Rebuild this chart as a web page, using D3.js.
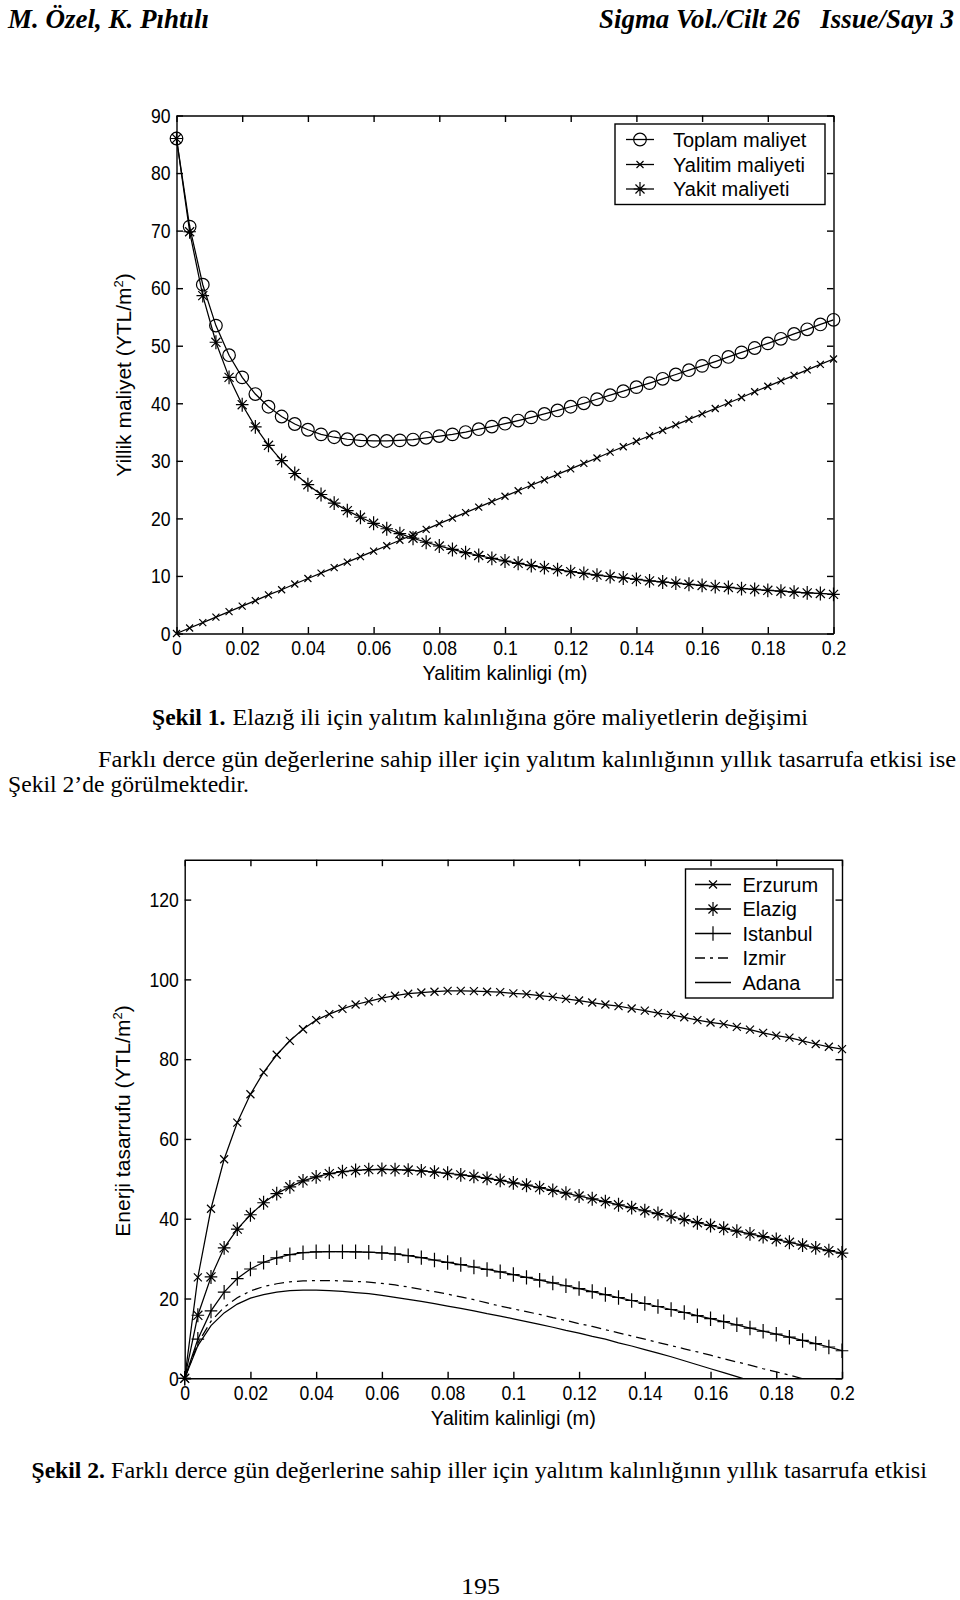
<!DOCTYPE html>
<html><head><meta charset="utf-8">
<script src="https://cdn.jsdelivr.net/npm/d3@7"></script>
<style>body{margin:0;background:#fff}svg{display:block}</style>
</head><body>
<script>
// ---------- DATA ----------
const thickness = [0,0.004,0.008,0.012,0.016,0.02,0.024,0.028,0.032,0.036,0.04,0.044,0.048,0.052,0.056,0.06,0.064,0.068,0.072,0.076,0.08,0.084,0.088,0.092,0.096,0.1,0.104,0.108,0.112,0.116,0.12,0.124,0.128,0.132,0.136,0.14,0.144,0.148,0.152,0.156,0.16,0.164,0.168,0.172,0.176,0.18,0.184,0.188,0.192,0.196,0.2];

const toplamMaliyet = [86.0,70.7,60.6,53.5,48.35,44.5,41.6,39.4,37.7,36.4,35.4,34.6,34.1,33.75,33.55,33.45,33.45,33.55,33.7,34.0,34.3,34.6,35.0,35.5,35.95,36.45,37.0,37.55,38.15,38.75,39.4,40.0,40.7,41.4,42.1,42.8,43.5,44.25,45.0,45.75,46.5,47.25,48.05,48.85,49.6,50.4,51.2,52.05,52.85,53.7,54.5];
const yalitimMaliyeti = [0,0.95,1.9,2.85,3.8,4.75,5.7,6.7,7.6,8.6,9.55,10.5,11.45,12.4,13.35,14.3,15.25,16.2,17.15,18.1,19.1,20.05,21.0,21.95,22.9,23.85,24.8,25.75,26.7,27.65,28.6,29.55,30.5,31.5,32.45,33.4,34.35,35.3,36.25,37.2,38.15,39.1,40.05,41.0,42.0,42.95,43.9,44.85,45.8,46.75,47.7];
const yakitMaliyeti = [86.0,69.8,58.7,50.6,44.5,39.75,35.9,32.7,30.05,27.8,25.85,24.15,22.65,21.35,20.2,19.15,18.2,17.35,16.55,15.85,15.2,14.6,14.05,13.55,13.05,12.6,12.2,11.8,11.45,11.1,10.75,10.45,10.15,9.9,9.65,9.4,9.15,8.95,8.75,8.55,8.35,8.15,8.0,7.8,7.65,7.5,7.35,7.2,7.05,6.95,6.8];

const erzurum = [0,25.3,42.5,54.9,64.1,71.2,76.7,81.1,84.6,87.5,89.8,91.3,92.6,93.7,94.5,95.3,95.9,96.4,96.7,96.9,97.1,97.1,97.05,96.9,96.8,96.5,96.3,95.9,95.6,95.1,94.7,94.2,93.7,93.3,92.7,92.15,91.55,91.1,90.5,89.8,89.2,88.8,88.1,87.4,86.6,85.9,85.4,84.6,83.8,83.1,82.5];
const elazig = [0,15.8,25.4,32.7,37.4,41.0,44.0,46.3,48.0,49.5,50.5,51.3,51.8,52.1,52.3,52.35,52.3,52.2,52.0,51.7,51.4,51.0,50.6,50.1,49.6,49.0,48.4,47.8,47.1,46.4,45.7,45.0,44.3,43.5,42.8,42.0,41.3,40.5,39.8,39.0,38.3,37.6,36.9,36.2,35.5,34.8,34.1,33.4,32.7,32.0,31.4];
const istanbul = [0,9.8,16.9,21.6,25.0,27.4,29.1,30.2,31.0,31.5,31.7,31.75,31.75,31.7,31.6,31.45,31.2,30.75,30.25,29.65,29.05,28.5,27.9,27.3,26.7,26.0,25.3,24.6,23.9,23.2,22.5,21.75,21.0,20.25,19.5,18.75,18.0,17.25,16.5,15.7,14.95,14.2,13.4,12.6,11.8,11.05,10.3,9.5,8.7,7.85,6.9];
const izmir = [0,8.8,14.3,17.8,20.2,21.9,23.0,23.7,24.2,24.4,24.5,24.5,24.4,24.3,24.1,23.8,23.4,22.9,22.3,21.7,21.1,20.4,19.7,18.9,18.1,17.4,16.7,16.0,15.2,14.5,13.7,13.0,12.2,11.4,10.6,9.8,9.0,8.2,7.4,6.6,5.8,4.9,4.1,3.3,2.4,1.6,0.8,-0.1,-0.9,-1.8,-2.6];
const adana = [0,8.2,13.2,16.4,18.6,20.1,21.0,21.6,22.0,22.1,22.1,22.0,21.8,21.5,21.2,20.8,20.3,19.8,19.3,18.7,18.1,17.5,16.9,16.2,15.6,14.9,14.2,13.5,12.8,12.0,11.3,10.5,9.8,8.9,8.1,7.2,6.3,5.4,4.4,3.4,2.4,1.4,0.4,-0.6,-1.6,-2.6,-3.6,-4.6,-5.6,-6.6,-7.6];

const xTickValues = [0,0.02,0.04,0.06,0.08,0.1,0.12,0.14,0.16,0.18,0.2];
const xTickLabels = ["0","0.02","0.04","0.06","0.08","0.1","0.12","0.14","0.16","0.18","0.2"];
const fig1YTicks = [0,10,20,30,40,50,60,70,80,90];
const fig2YTicks = [0,20,40,60,80,100,120];
const fig1Legend = ["Toplam maliyet","Yalitim maliyeti","Yakit maliyeti"];
const fig2Legend = ["Erzurum","Elazig","Istanbul","Izmir","Adana"];

const xTitle = "Yalitim kalinligi (m)";
const fig1YTitle = ["Yillik maliyet (YTL/m","2",")"];
const fig2YTitle = ["Enerji tasarrufu (YTL/m","2",")"];

const headerLeft = "M. Özel, K. Pıhtılı";
const headerRight = "Sigma Vol./Cilt 26   Issue/Sayı 3";
const caption1Bold = "Şekil 1.";
const caption1 = "Elazığ ili için yalıtım kalınlığına göre maliyetlerin değişimi";
const body1 = "Farklı derce gün değerlerine sahip iller için yalıtım kalınlığının yıllık tasarrufa etkisi ise";
const body2 = "Şekil 2’de görülmektedir.";
const caption2Bold = "Şekil 2.";
const caption2 = "Farklı derce gün değerlerine sahip iller için yalıtım kalınlığının yıllık tasarrufa etkisi";
const pageNumber = "195";

// ---------- DRAWING ----------
const SERIF = "'Liberation Serif','Times New Roman',Times,serif";
const SANS = "'Liberation Sans',Arial,sans-serif";
const svg = d3.select("body").append("svg").attr("width",960).attr("height",1600);

function pageText(x, y, str, len, size, weight, style){
  svg.append("text").attr("x",x).attr("y",y)
    .attr("font-family",SERIF).attr("font-size",size)
    .attr("font-weight",weight||"normal").attr("font-style",style||"normal")
    .attr("textLength",len).attr("lengthAdjust","spacingAndGlyphs")
    .style("white-space","pre").attr("fill","#000").text(str);
}

function markerPath(type, s){
  if(type==="x") return `M${-s},${-s}L${s},${s}M${-s},${s}L${s},${-s}`;
  if(type==="+") return `M${-s},0L${s},0M0,${-s*1.15}L0,${s*1.15}`;
  if(type==="*"){ const a=s*0.72; return `M${-s},0L${s},0M0,${-s*1.1}L0,${s*1.1}M${-a},${-a}L${a},${a}M${-a},${a}L${a},${-a}`; }
  return "";
}
function drawMarkers(g, type, s, pts){
  if(type==="o"){
    g.selectAll(null).data(pts).join("circle")
      .attr("cx",d=>d[0]).attr("cy",d=>d[1]).attr("r",s)
      .attr("fill","none").attr("stroke","#000").attr("stroke-width",1.2);
  } else {
    g.selectAll(null).data(pts).join("path")
      .attr("transform",d=>`translate(${d[0]},${d[1]})`)
      .attr("d",markerPath(type,s))
      .attr("fill","none").attr("stroke","#000").attr("stroke-width",1.2);
  }
}

function styleAxis(sel, labels){
  sel.select(".domain").attr("stroke","#000").attr("stroke-width",1.4);
  sel.selectAll(".tick line").attr("stroke","#000").attr("stroke-width",1.4);
  if(labels){
    sel.selectAll(".tick text").attr("font-family",SANS).attr("font-size",21)
      .attr("fill","#000").attr("transform","scale(0.84,1)");
  } else sel.selectAll(".tick text").remove();
}

function drawChart(cfg){
  const x = d3.scaleLinear().domain([0,0.2]).range([cfg.left,cfg.right]);
  const y = d3.scaleLinear().domain(cfg.yDomain).range([cfg.bottom,cfg.top]);
  const g = svg.append("g");
  const clipId = cfg.id + "-clip";
  svg.append("clipPath").attr("id",clipId).append("rect")
    .attr("x",cfg.left).attr("y",cfg.top)
    .attr("width",cfg.right-cfg.left).attr("height",cfg.bottom-cfg.top);

  const T = 6.5;
  g.append("g").attr("transform",`translate(0,${cfg.bottom})`)
    .call(d3.axisBottom(x).tickValues(xTickValues).tickFormat((d,i)=>xTickLabels[i]).tickSizeInner(-T).tickSizeOuter(0).tickPadding(7))
    .call(s=>styleAxis(s,true));
  g.append("g").attr("transform",`translate(0,${cfg.top})`)
    .call(d3.axisTop(x).tickValues(xTickValues).tickSizeInner(-T).tickSizeOuter(0))
    .call(s=>styleAxis(s,false));
  g.append("g").attr("transform",`translate(${cfg.left},0)`)
    .call(d3.axisLeft(y).tickValues(cfg.yTicks).tickFormat(d3.format("d")).tickSizeInner(-T).tickSizeOuter(0).tickPadding(7))
    .call(s=>styleAxis(s,true));
  g.append("g").attr("transform",`translate(${cfg.right},0)`)
    .call(d3.axisRight(y).tickValues(cfg.yTicks).tickSizeInner(-T).tickSizeOuter(0))
    .call(s=>styleAxis(s,false));

  const plot = g.append("g").attr("clip-path",`url(#${clipId})`);
  const line = d3.line().x((d,i)=>x(thickness[i])).y(d=>y(d));
  cfg.series.forEach(s=>{
    plot.append("path").attr("d",line(s.values)).attr("fill","none")
      .attr("stroke","#000").attr("stroke-width",1.25)
      .attr("stroke-dasharray",s.dash||null);
    if(s.marker) drawMarkers(g.append("g"), s.marker, s.size, s.values.map((v,i)=>[x(thickness[i]),y(v)]));
  });

  g.append("text").attr("x",(cfg.left+cfg.right)/2).attr("y",cfg.xTitleY)
    .attr("text-anchor","middle").attr("font-family",SANS).attr("font-size",21)
    .attr("textLength",cfg.xTitleLen).attr("lengthAdjust","spacingAndGlyphs").text(xTitle);
  const yt = g.append("text").attr("transform",`translate(${cfg.yTitleX},${cfg.yTitleY}) rotate(-90)`)
    .attr("text-anchor","middle").attr("font-family",SANS).attr("font-size",21);
  yt.append("tspan").text(cfg.yTitle[0]);
  yt.append("tspan").attr("dy",-8).attr("font-size",13).text(cfg.yTitle[1]);
  yt.append("tspan").attr("dy",8).text(cfg.yTitle[2]);

  const L = cfg.legend;
  g.append("rect").attr("x",L.x0).attr("y",L.y0).attr("width",L.x1-L.x0).attr("height",L.y1-L.y0)
    .attr("fill","#fff").attr("stroke","#000").attr("stroke-width",1.4);
  cfg.series.forEach((s,i)=>{
    const ry = L.rows[i];
    g.append("line").attr("x1",L.lx0).attr("x2",L.lx1).attr("y1",ry).attr("y2",ry)
      .attr("stroke","#000").attr("stroke-width",1.3).attr("stroke-dasharray",s.dash||null);
    if(s.marker) drawMarkers(g.append("g"), s.marker, s.size, [[(L.lx0+L.lx1)/2, ry]]);
    g.append("text").attr("x",L.tx).attr("y",ry+7).attr("font-family",SANS).attr("font-size",20)
      .attr("fill","#000").text(s.label);
  });
}

// header
pageText(8, 28, headerLeft, 201, 27, "bold", "italic");
pageText(599, 28, headerRight, 355, 27, "bold", "italic");

// figure 1
drawChart({
  id:"fig1", left:176.5, right:833.5, top:115.5, bottom:633.5, yDomain:[0,90], yTicks:fig1YTicks,
  xTitleY:680, xTitleLen:165, yTitleX:131, yTitleY:375, yTitle:fig1YTitle,
  series:[
    {label:fig1Legend[0], values:toplamMaliyet, marker:"o", size:6.3},
    {label:fig1Legend[1], values:yalitimMaliyeti, marker:"x", size:3.5},
    {label:fig1Legend[2], values:yakitMaliyeti, marker:"*", size:6.3}
  ],
  legend:{x0:615, x1:825, y0:124, y1:204.5, rows:[139.5,164.5,189], lx0:626, lx1:654, tx:673}
});

pageText(152, 725, caption1Bold, 73.5, 24, "bold");
pageText(232.5, 725, caption1, 575.5, 24);
pageText(98, 767, body1, 858, 24);
pageText(8, 792, body2, 241, 24);

// figure 2
drawChart({
  id:"fig2", left:184.7, right:842, top:859.7, bottom:1378.3, yDomain:[0,130], yTicks:fig2YTicks,
  xTitleY:1425, xTitleLen:165, yTitleX:130, yTitleY:1121, yTitle:fig2YTitle,
  series:[
    {label:fig2Legend[0], values:erzurum, marker:"x", size:4},
    {label:fig2Legend[1], values:elazig, marker:"*", size:6.3},
    {label:fig2Legend[2], values:istanbul, marker:"+", size:6.3},
    {label:fig2Legend[3], values:izmir, dash:"10,5,3,5"},
    {label:fig2Legend[4], values:adana}
  ],
  legend:{x0:685.5, x1:833, y0:869, y1:998, rows:[884.5,909,933.5,958,982.5], lx0:695, lx1:731, tx:742.5}
});

pageText(31.5, 1478, caption2Bold, 73.5, 24, "bold");
pageText(111, 1478, caption2, 816, 24);
pageText(461, 1594, pageNumber, 39, 24);
</script>
</body></html>
